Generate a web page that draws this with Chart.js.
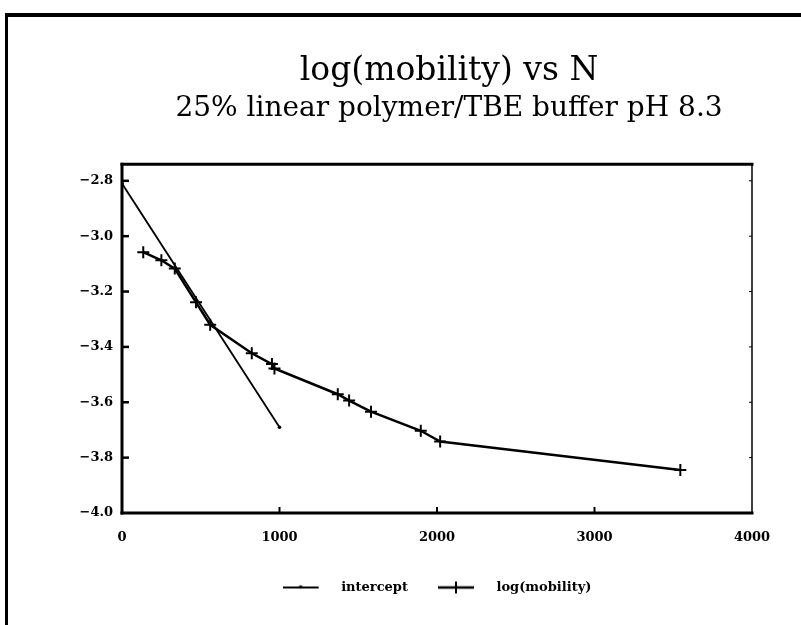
<!DOCTYPE html>
<html>
<head>
<meta charset="utf-8">
<script src="https://cdn.jsdelivr.net/npm/chart.js@4.4.0/dist/chart.umd.min.js"></script>
<style>
  html, body { margin: 0; padding: 0; background: #fff; overflow: hidden; }
  #page { position: relative; width: 801px; height: 625px; overflow: hidden; }
  #frame {
    position: absolute; left: 5px; top: 13px; width: 796px; height: 608px;
    border-top: 4px solid #000; border-left: 3px solid #000; border-bottom: 1px solid #c8c8c8;
  }
  #chartPlaceholder { position: absolute; left: 0; top: 0; }
</style>
</head>
<body>
<div id="page">
  <div id="frame"></div>
  <canvas id="chartPlaceholder" width="898" height="625"></canvas>
</div>
<script>
const TITLE = "log(mobility) vs N";
const SUBTITLE = "25% linear polymer/TBE buffer pH 8.3";

// intercept line (fit through the first points)
const INTERCEPT_N = [0, 1000];
const INTERCEPT_LOG = [-2.81, -3.69];

// measured log(mobility) against N
const MOBILITY_N = [135, 250, 335, 470, 560, 824, 952, 968, 1370, 1442, 1581, 1897, 2020, 3545];
const MOBILITY_LOG = [-3.058, -3.087, -3.117, -3.239, -3.32, -3.423, -3.462, -3.478, -3.571, -3.594, -3.634, -3.703, -3.742, -3.845];

const X_TICKS = [0, 1000, 2000, 3000, 4000];
const Y_TICKS = [-4.0, -3.8, -3.6, -3.4, -3.2, -3.0, -2.8];
const X_MIN = 0;
const X_MAX = 4000;
const Y_MIN = -4.0;
const Y_MAX = -2.74;

const SERIF = "'DejaVu Serif', serif";

function toPoints(xs, ys) {
  return xs.map((x, i) => ({ x: x, y: ys[i] }));
}

function strokeLine(ctx, x1, y1, x2, y2) {
  ctx.beginPath();
  ctx.moveTo(x1, y1);
  ctx.lineTo(x2, y2);
  ctx.stroke();
}

// little legend symbols: a line with the series marker in the middle
function makeLegendIcon(lineWidth, marker) {
  const c = document.createElement("canvas");
  c.width = 52;
  c.height = 16;
  const g = c.getContext("2d");
  g.strokeStyle = "#000";
  g.fillStyle = "#000";
  g.lineWidth = lineWidth;
  strokeLine(g, 0, 8, 36, 8);
  if (marker === "cross") {
    g.lineWidth = 2;
    strokeLine(g, 18, 2, 18, 14);
  } else {
    g.beginPath();
    g.arc(18, 7.5, 1.8, 0, Math.PI * 2);
    g.fill();
  }
  return c;
}

const LEGEND_ICONS = [makeLegendIcon(1.8, "dot"), makeLegendIcon(2.5, "cross")];

// box round the plot, with short ticks pointing inwards
const plotFrame = {
  id: "plotFrame",
  afterDatasetsDraw(chart) {
    const { ctx, chartArea: a, scales } = chart;
    ctx.save();
    ctx.strokeStyle = "#000";
    ctx.lineWidth = 2;
    scales.x.ticks.forEach((t) => {
      if (t.value <= X_MIN || t.value >= X_MAX) return;
      const px = scales.x.getPixelForValue(t.value);
      strokeLine(ctx, px, a.bottom, px, a.bottom - 6);
    });
    scales.y.ticks.forEach((t) => {
      if (t.value <= Y_MIN + 1e-9) return;
      const py = scales.y.getPixelForValue(t.value);
      ctx.lineWidth = 2.5;
      strokeLine(ctx, a.left, py, a.left + 7, py);
      ctx.lineWidth = 1;
      strokeLine(ctx, a.right, py, a.right - 3, py);
    });
    ctx.lineCap = "square";
    ctx.lineWidth = 3;
    strokeLine(ctx, a.left, a.top, a.right, a.top);
    strokeLine(ctx, a.left, a.top, a.left, a.bottom);
    strokeLine(ctx, a.left, a.bottom, a.right, a.bottom);
    ctx.lineWidth = 1.5;
    strokeLine(ctx, a.right, a.top, a.right, a.bottom);
    ctx.restore();
  },
};

const tickFont = { family: SERIF, size: 13, weight: "bold" };

const ctx = document.getElementById("chartPlaceholder").getContext("2d");
new Chart(ctx, {
  type: "scatter",
  data: {
    datasets: [
      {
        label: "intercept",
        data: toPoints(INTERCEPT_N, INTERCEPT_LOG),
        showLine: true,
        borderColor: "#000",
        backgroundColor: "#000",
        borderWidth: 1.8,
        pointStyle: "circle",
        pointRadius: 1.8,
        pointBorderWidth: 0,
        tension: 0,
      },
      {
        label: "log(mobility)",
        data: toPoints(MOBILITY_N, MOBILITY_LOG),
        showLine: true,
        borderColor: "#000",
        backgroundColor: "#000",
        borderWidth: 2.5,
        pointStyle: "cross",
        pointRadius: 6,
        pointBorderWidth: 2,
        tension: 0,
      },
    ],
  },
  options: {
    responsive: false,
    animation: false,
    layout: { padding: { top: 0, bottom: 21, left: 0, right: 0 } },
    scales: {
      x: {
        type: "linear",
        min: X_MIN,
        max: X_MAX,
        afterBuildTicks: (scale) => {
          scale.ticks = X_TICKS.map((v) => ({ value: v }));
        },
        afterFit: (scale) => {
          scale.height = 38;
        },
        ticks: {
          color: "#000",
          font: tickFont,
          padding: 17,
          maxRotation: 0,
          callback: (v) => String(v),
        },
        grid: { display: false, drawTicks: false },
        border: { display: false },
      },
      y: {
        type: "linear",
        min: Y_MIN,
        max: Y_MAX,
        afterBuildTicks: (scale) => {
          scale.ticks = Y_TICKS.map((v) => ({ value: v }));
        },
        afterFit: (scale) => {
          scale.width = 122;
        },
        ticks: {
          color: "#000",
          font: tickFont,
          padding: 9,
          callback: (v) => Number(v).toFixed(1).replace("-", "\u2212"),
        },
        grid: { display: false, drawTicks: false },
        border: { display: false },
      },
      yRight: {
        type: "linear",
        position: "right",
        min: Y_MIN,
        max: Y_MAX,
        afterFit: (scale) => {
          scale.width = 146;
        },
        ticks: { display: false },
        grid: { display: false, drawTicks: false },
        border: { display: false },
      },
    },
    plugins: {
      title: {
        display: true,
        text: TITLE,
        color: "#000",
        font: { family: SERIF, size: 33, weight: "normal", lineHeight: 1.2 },
        padding: { top: 52, bottom: 0 },
      },
      subtitle: {
        display: true,
        text: SUBTITLE,
        color: "#000",
        font: { family: SERIF, size: 28, weight: "normal", lineHeight: 1.2 },
        padding: { top: 0, bottom: 39 },
      },
      legend: {
        position: "bottom",
        fullSize: false,
        labels: {
          usePointStyle: true,
          pointStyleWidth: 52,
          padding: 30,
          color: "#000",
          font: tickFont,
          generateLabels: (chart) =>
            chart.data.datasets.map((ds, i) => ({
              text: ds.label,
              datasetIndex: i,
              pointStyle: LEGEND_ICONS[i],
              fontColor: "#000",
              fillStyle: "#000",
              strokeStyle: "#000",
              lineWidth: 0,
              hidden: false,
            })),
        },
      },
      tooltip: { enabled: false },
    },
  },
  plugins: [plotFrame],
});
</script>
</body>
</html>
